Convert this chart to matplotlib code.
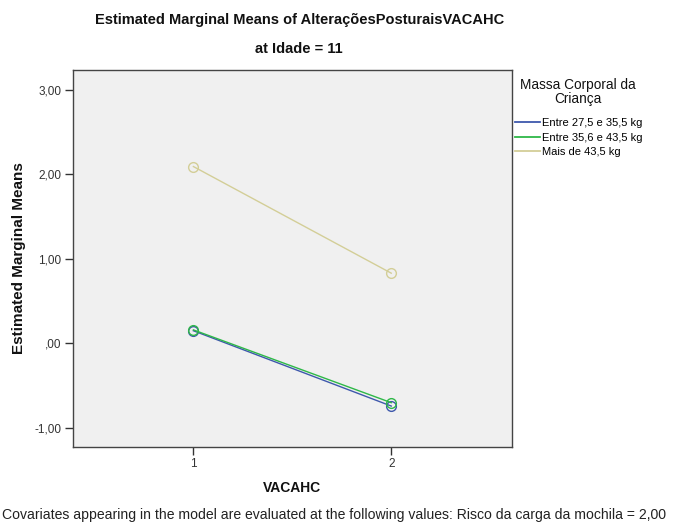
import matplotlib.pyplot as plt
from matplotlib.lines import Line2D

plt.rcParams['font.family'] = ['Liberation Sans', 'DejaVu Sans']

# estimated marginal means per group (VACAHC levels 1 and 2)
vacahc = [1, 2]
groups = ['Entre 27,5 e 35,5 kg', 'Entre 35,6 e 43,5 kg', 'Mais de 43,5 kg']
means_27_35 = [0.15, -0.74]
means_35_43 = [0.16, -0.70]
means_43_plus = [2.09, 0.83]
colors = ['#3e58ac', '#2eb848', '#d3ce97']

y_ticks = [-1, 0, 1, 2, 3]
y_tick_labels = ['-1,00', ',00', '1,00', '2,00', '3,00']

fig = plt.figure(figsize=(6.77, 5.28), dpi=100)
ax = fig.add_axes([0.1074, 0.154, 0.6488, 0.713])
ax.set_facecolor('#f0f0f0')

for vals, col in zip([means_27_35, means_35_43, means_43_plus], colors):
    ax.plot(vacahc, vals, color=col, lw=1.0, marker='o', ms=7,
            mfc='none', mec=col, mew=1.0)

ax.set_xlim(0.39, 2.61)
ax.set_ylim(-1.22, 3.228)
ax.set_xticks(vacahc)
ax.set_xticklabels(['1', '2'])
ax.set_yticks(y_ticks)
ax.set_yticklabels(y_tick_labels)
ax.tick_params(axis='both', direction='out', length=6, width=1, colors='#333333',
               labelsize=8.5, labelcolor='#333333', pad=2)

for s in ax.spines.values():
    s.set_color('#444444')
    s.set_linewidth(1.0)

# axis titles
fig.text(0.028, 0.511, 'Estimated Marginal Means', rotation=90, ha='center',
         va='center', fontsize=11, fontweight='bold', color='#111111')
fig.text(0.431, 0.0758, 'VACAHC', ha='center', va='center', fontsize=10,
         fontweight='bold', color='#111111')

fig.text(0.442, 0.963, 'Estimated Marginal Means of AlteraçõesPosturaisVACAHC',
         ha='center', va='center', fontsize=10.5, fontweight='bold', color='#111111')
fig.text(0.442, 0.908, 'at Idade = 11', ha='center', va='center',
         fontsize=10.5, fontweight='bold', color='#111111')

# legend placed to the right of the plot box, title drawn separately
fig.text(0.854, 0.825, 'Massa Corporal da\nCriança', ha='center', va='center',
         multialignment='center', fontsize=9.8, linespacing=1.0, color='#111111')
handles = [Line2D([0], [0], color=c, lw=1.3) for c in colors]
fig.legend(handles, groups, loc='upper left', bbox_to_anchor=(0.761, 0.776),
           frameon=False, fontsize=8, handlelength=2.2, handletextpad=0.2,
           labelspacing=0.4, borderaxespad=0, borderpad=0)

fig.text(0.003, 0.0246, 'Covariates appearing in the model are evaluated at the following values: '
         'Risco da carga da mochila = 2,00', ha='left', va='center',
         fontsize=10.05, color='#222222')

fig.savefig('out.png', dpi=100)
